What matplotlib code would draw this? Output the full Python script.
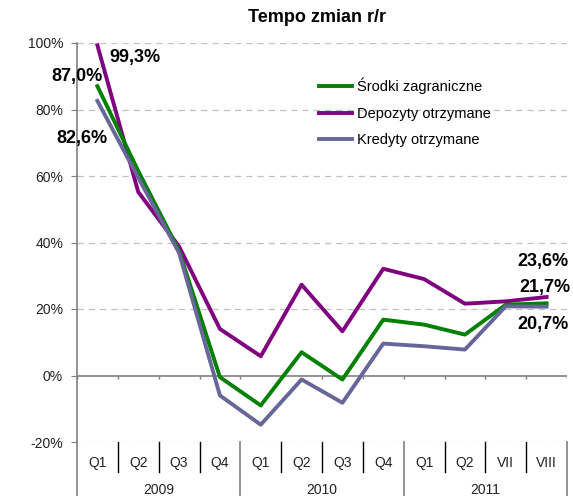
import numpy as np
import matplotlib.pyplot as plt
from matplotlib.transforms import blended_transform_factory

plt.rcParams['font.family'] = ['Liberation Sans', 'DejaVu Sans']

# data (% r/r)
quarters = ['Q1', 'Q2', 'Q3', 'Q4', 'Q1', 'Q2', 'Q3', 'Q4', 'Q1', 'Q2', 'VII', 'VIII']
years = ['2009', '2010', '2011']
srodki = [87.0, 61.5, 37.5, -0.5, -9.0, 7.0, -1.2, 16.8, 15.3, 12.3, 21.3, 21.7]
depozyty = [99.3, 55.2, 38.8, 14.0, 5.8, 27.3, 13.3, 32.1, 29.0, 21.6, 22.3, 23.6]
kredyty = [82.6, 59.5, 36.9, -6.0, -14.8, -1.2, -8.2, 9.6, 8.8, 7.8, 20.8, 20.7]

x = np.arange(len(quarters)) + 0.5
gray = '#808080'

fig = plt.figure(figsize=(5.73, 4.96), dpi=100)
ax = fig.add_axes([77/573, 1 - 442/496, 490/573, 399/496])

ax.set_xlim(0, 12)
ax.set_ylim(-20, 100)

# gridlines
for v in [-20, 20, 40, 60, 80, 100]:
    ax.axhline(v, color='#c0c0c0', lw=0.9, dashes=(5, 4), zorder=1)
ax.axhline(0, color=gray, lw=1.2, zorder=2)
ax.vlines(np.arange(13), -1.0, 0, color=gray, lw=1.0, zorder=2)

ax.plot(x, srodki, color='#008000', lw=2.8, label='Środki zagraniczne', zorder=4)
ax.plot(x, depozyty, color='#800080', lw=2.8, label='Depozyty otrzymane', zorder=3)
ax.plot(x, kredyty, color='#666699', lw=2.8, label='Kredyty otrzymane', zorder=5)

# spines and y ticks
for s in ['top', 'right', 'bottom']:
    ax.spines[s].set_visible(False)
ax.spines['left'].set_color(gray)
ax.spines['left'].set_linewidth(1.2)
ax.set_yticks([-20, 0, 20, 40, 60, 80, 100])
ax.set_yticklabels(['-20%', '0%', '20%', '40%', '60%', '80%', '100%'])
ax.tick_params(axis='y', length=4, color=gray, labelsize=10, labelcolor='#222222', pad=6)
ax.set_xticks([])

# category table below the plot
tr = blended_transform_factory(ax.transData, ax.transAxes)
axh = 399.0
for i in range(1, 12):
    if i % 4 == 0:
        continue
    ax.plot([i, i], [0, -30/axh], color='black', lw=1.0, transform=tr, clip_on=False)
for i in [0, 4, 8, 12]:
    ax.plot([i, i], [0, -54/axh], color=gray, lw=1.2, transform=tr, clip_on=False)
for xi, q in zip(x, quarters):
    ax.text(xi, -21/axh, q, transform=tr, ha='center', va='center', fontsize=10, color='#222222')
for k, yr in enumerate(years):
    ax.text(4*k + 2, -48/axh, yr, transform=tr, ha='center', va='center', fontsize=10, color='#222222')

# value labels
lab = dict(fontsize=13, fontweight='bold', ha='center', va='center')
ax.text(1.43, 95.6, '99,3%', **lab)
ax.text(0.0, 89.9, '87,0%', **lab)
ax.text(0.12, 71.3, '82,6%', **lab)
ax.text(11.41, 34.3, '23,6%', **lab)
ax.text(11.47, 26.4, '21,7%', **lab)
ax.text(11.41, 15.3, '20,7%', **lab)

fig.text(316.5/573, 1 - 17/496, 'Tempo zmian r/r', ha='center', va='center',
         fontsize=13, fontweight='bold')

ax.legend(loc='upper left', bbox_to_anchor=(236/490, (442-72)/399), frameon=False,
          fontsize=10.5, handlelength=2.3, handletextpad=0.3, labelspacing=0.85,
          borderaxespad=0)

fig.savefig('out.png', dpi=100)
